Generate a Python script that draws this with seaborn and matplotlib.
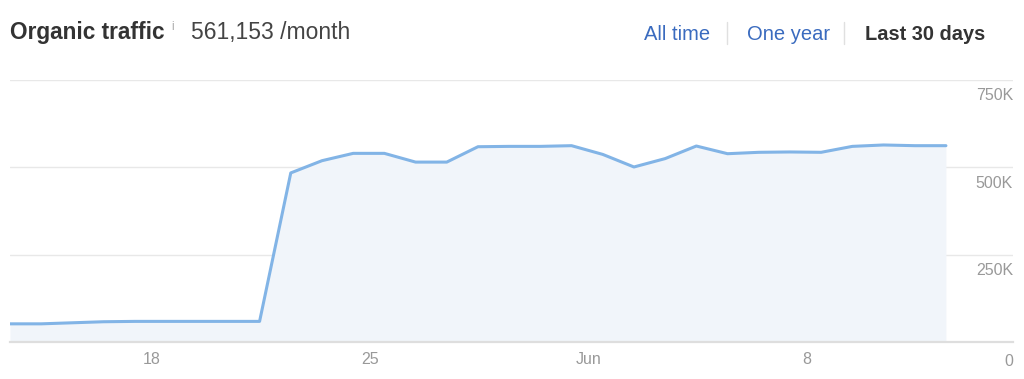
import numpy as np
import pandas as pd
import seaborn as sns
from matplotlib import pyplot as plt
from matplotlib import transforms
from matplotlib.lines import Line2D

# daily organic traffic, last 30 days (31 points)
day_index = list(range(31))
traffic = [52000, 52000, 55000, 58000, 59000, 59000, 59000, 59000, 59000,
           484000, 519000, 540000, 540000, 515000, 515000, 559000, 560000,
           560000, 562000, 537000, 501000, 525000, 561000, 539000, 543000,
           544000, 543000, 560000, 564000, 562000, 562000]

# x tick positions (in days from first point) and labels
tick_pos = [4.55, 11.55, 18.55, 25.55]
tick_labels = ['18', '25', 'Jun', '8']
y_ticks = [0, 250000, 500000, 750000]
y_labels = ['0', '250K', '500K', '750K']

sns.set_style('white')
plt.rcParams['font.family'] = ['Liberation Sans', 'DejaVu Sans']

W, H = 1024, 379
fig = plt.figure(figsize=(W / 100, H / 100), dpi=100)
ax = fig.add_axes([10 / W, (H - 342) / H, 1003 / W, (342 - 80) / H])

df = pd.DataFrame({'day': day_index, 'traffic': traffic})
line_color = '#82b4e6'
ax.fill_between(df['day'], df['traffic'], 0, color='#f1f5fa', lw=0, zorder=1)
sns.lineplot(data=df, x='day', y='traffic', color=line_color, linewidth=2.2, ax=ax, zorder=3)

ax.set_xlim(0, 32.15)
ax.set_ylim(0, 750000)

# gridlines
for v in y_ticks[1:]:
    ax.axhline(v, color='#e8e8e8', lw=1, zorder=0)

# y labels sit under the gridlines, right aligned
base = transforms.blended_transform_factory(ax.transAxes, ax.transData)
for v, lab in zip(y_ticks, y_labels):
    off = -20 if v == 0 else -16
    t = transforms.offset_copy(base, fig=fig, x=0, y=off, units='dots')
    ax.text(1.0, v, lab, transform=t, ha='right', va='center', fontsize=11.5,
            color='#999999', clip_on=False)

ax.set_yticks([])
ax.set_xticks(tick_pos)
ax.set_xticklabels(tick_labels)
ax.tick_params(axis='x', direction='in', length=6.5, width=1, color='#cfcfcf',
               labelsize=11.5, labelcolor='#999999', pad=7)
ax.set_xlabel('')
ax.set_ylabel('')
for s in ['top', 'left', 'right']:
    ax.spines[s].set_visible(False)
ax.spines['bottom'].set_color('#dedede')
ax.spines['bottom'].set_linewidth(1.6)
ax.spines['bottom'].set_zorder(4)

# header
def px(x, y):
    return x / W, 1 - y / H

fig.text(*px(10, 33), 'Organic traffic', fontsize=16.3, fontweight='bold',
         color='#333333', va='center', ha='left')
fig.text(*px(171, 27), 'i', fontsize=8.5, color='#aaaaaa', va='center', ha='left')
fig.text(*px(191, 33), '561,153 /month', fontsize=16.5, color='#444444',
         va='center', ha='left')

fig.text(*px(644, 34), 'All time', fontsize=14.5, color='#3a6bbf', va='center', ha='left')
fig.text(*px(747, 34), 'One year', fontsize=14.5, color='#3a6bbf', va='center', ha='left')
fig.text(*px(865, 34), 'Last 30 days', fontsize=14.4, fontweight='bold', color='#333333',
         va='center', ha='left')
for xs in [727, 844]:
    fig.add_artist(Line2D([xs / W, xs / W], [1 - 22 / H, 1 - 44 / H], color='#e0e0e0', lw=1))

fig.savefig('out.png', dpi=100, facecolor='white')
